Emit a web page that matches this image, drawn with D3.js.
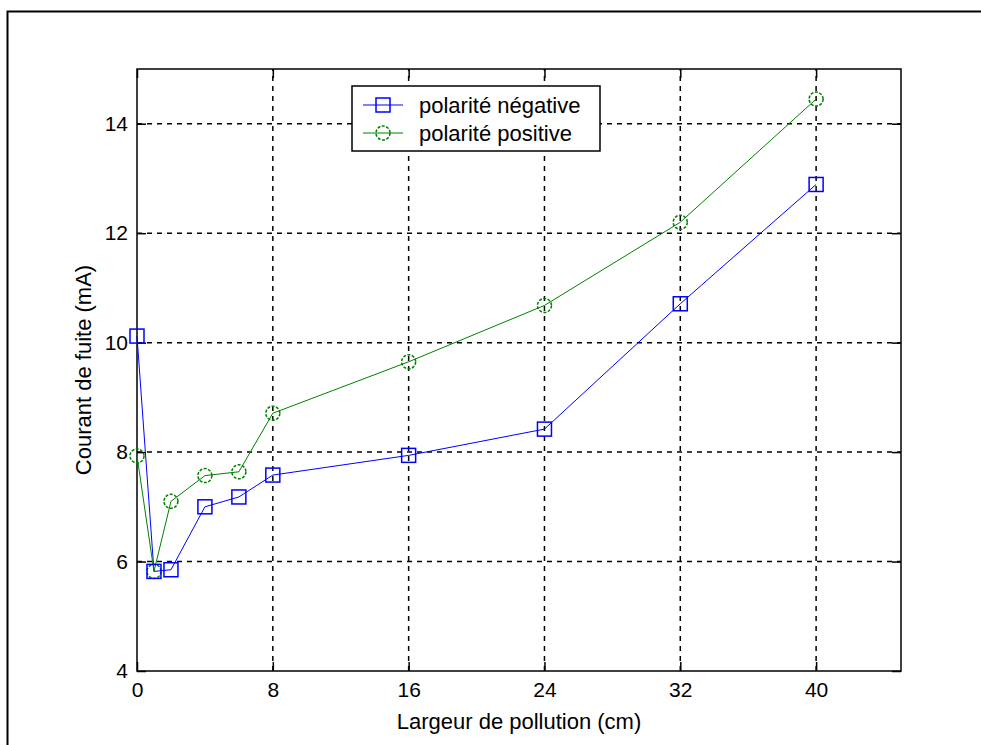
<!DOCTYPE html>
<html>
<head>
<meta charset="utf-8">
<script src="https://cdn.jsdelivr.net/npm/d3@7"></script>
<style>
  body { margin: 0; background: #fff; }
  svg { display: block; font-family: "Liberation Sans", Arial, sans-serif; }
</style>
</head>
<body>
<div id="chart"></div>
<script>
// values
const largeur = [0, 1, 2, 4, 6, 8, 16, 24, 32, 40];
const negative = [10.12, 5.82, 5.85, 7.0, 7.18, 7.58, 7.94, 8.42, 10.71, 12.89];
const positive = [7.93, 5.82, 7.1, 7.57, 7.64, 8.71, 9.65, 10.68, 12.2, 14.45];
const xTicks = [0, 8, 16, 24, 32, 40];
const yTicks = [4, 6, 8, 10, 12, 14];
const seriesNames = ["polarité négative", "polarité positive"];

(function() {
  const width = 981, height = 745;
  const margin = {left: 137, top: 69, right: 80, bottom: 74};

  const svg = d3.select("#chart").append("svg")
    .attr("width", width)
    .attr("height", height);

  // frame of the figure (only left/top edges visible)
  svg.append("path")
    .attr("d", `M7.5,${height} V11.5 H${width}`)
    .attr("fill", "none")
    .attr("stroke", "#000")
    .attr("stroke-width", 2);

  const x = d3.scaleLinear().domain([0, 45]).range([margin.left, width - margin.right]);
  const y = d3.scaleLinear().domain([4, 15]).range([height - margin.bottom, margin.top]);

  const x0 = x.range()[0], x1 = x.range()[1];
  const y0 = y.range()[0], y1 = y.range()[1];

  // grid
  const grid = svg.append("g")
    .attr("stroke", "#000")
    .attr("stroke-dasharray", "5,5")
    .attr("stroke-width", 1.5);
  grid.selectAll(".gx").data(xTicks.filter(d => d > 0)).join("line")
    .attr("x1", d => x(d)).attr("x2", d => x(d))
    .attr("y1", y0).attr("y2", y1);
  grid.selectAll(".gy").data(yTicks.filter(d => d > 4)).join("line")
    .attr("y1", d => y(d)).attr("y2", d => y(d))
    .attr("x1", x0).attr("x2", x1);

  // axes with inward ticks
  const tickLen = 9;
  svg.append("g")
    .attr("transform", `translate(0,${y0})`)
    .call(d3.axisBottom(x).tickValues(xTicks).tickSize(-tickLen).tickPadding(11));
  svg.append("g")
    .attr("transform", `translate(${x0},0)`)
    .call(d3.axisLeft(y).tickValues(yTicks).tickSize(-tickLen).tickPadding(9));
  svg.append("g")
    .attr("transform", `translate(0,${y1})`)
    .call(d3.axisTop(x).tickValues(xTicks).tickSize(-tickLen).tickFormat(""));
  svg.append("g")
    .attr("transform", `translate(${x1},0)`)
    .call(d3.axisRight(y).tickValues(yTicks).tickSize(-tickLen).tickFormat(""));

  svg.selectAll(".domain").remove();
  svg.selectAll(".tick line").attr("stroke", "#000").attr("stroke-width", 1.5);
  svg.selectAll(".tick text")
    .attr("fill", "#000")
    .style("font-size", "21px");

  svg.append("rect")
    .attr("x", x0).attr("y", y1)
    .attr("width", x1 - x0).attr("height", y0 - y1)
    .attr("fill", "none").attr("stroke", "#000").attr("stroke-width", 1.5);

  // axis titles
  svg.append("text")
    .attr("x", (x0 + x1) / 2).attr("y", 729)
    .attr("text-anchor", "middle")
    .style("font-size", "22px")
    .text("Largeur de pollution (cm)");
  svg.append("text")
    .attr("transform", `translate(91,${(y0 + y1) / 2}) rotate(-90)`)
    .attr("text-anchor", "middle")
    .style("font-size", "22px")
    .text("Courant de fuite (mA)");

  const line = d3.line().x(d => x(d[0])).y(d => y(d[1]));
  const negPts = largeur.map((v, i) => [v, negative[i]]);
  const posPts = largeur.map((v, i) => [v, positive[i]]);
  const sq = 14, r = 7;

  function drawSquares(g, pts, col) {
    g.selectAll("rect").data(pts).join("rect")
      .attr("x", d => x(d[0]) - sq / 2).attr("y", d => y(d[1]) - sq / 2)
      .attr("width", sq).attr("height", sq)
      .attr("fill", "none").attr("stroke", col).attr("stroke-width", 1.5);
  }
  function drawCircles(g, pts, col) {
    g.selectAll("circle").data(pts).join("circle")
      .attr("cx", d => x(d[0])).attr("cy", d => y(d[1])).attr("r", r)
      .attr("fill", "none").attr("stroke", col).attr("stroke-width", 1.5)
      .attr("stroke-dasharray", "3,1.5");
  }

  const blue = "#0000ff", green = "#008000";
  svg.append("path").datum(negPts).attr("d", line)
    .attr("fill", "none").attr("stroke", blue).attr("stroke-width", 1);
  svg.append("path").datum(posPts).attr("d", line)
    .attr("fill", "none").attr("stroke", green).attr("stroke-width", 1);
  drawCircles(svg.append("g"), posPts, green);
  drawSquares(svg.append("g"), negPts, blue);

  // legend
  const lg = svg.append("g").attr("transform", "translate(352,86)");
  lg.append("rect").attr("width", 248).attr("height", 65)
    .attr("fill", "#fff").attr("stroke", "#000").attr("stroke-width", 1.5);
  const rows = [{name: seriesNames[0], col: blue, y: 19}, {name: seriesNames[1], col: green, y: 47}];
  rows.forEach((d, i) => {
    const g = lg.append("g").attr("transform", `translate(0,${d.y})`);
    g.append("line").attr("x1", 11).attr("x2", 51).attr("stroke", d.col).attr("stroke-width", 1);
    if (i === 0) {
      g.append("rect").attr("x", 31 - sq / 2).attr("y", -sq / 2).attr("width", sq).attr("height", sq)
        .attr("fill", "none").attr("stroke", d.col).attr("stroke-width", 1.5);
    } else {
      g.append("circle").attr("cx", 31).attr("r", r)
        .attr("fill", "none").attr("stroke", d.col).attr("stroke-width", 1.5)
        .attr("stroke-dasharray", "3,1.5");
    }
    g.append("text").attr("x", 67).attr("dy", "0.35em")
      .style("font-size", "22px").text(d.name);
  });
})();
</script>
</body>
</html>
